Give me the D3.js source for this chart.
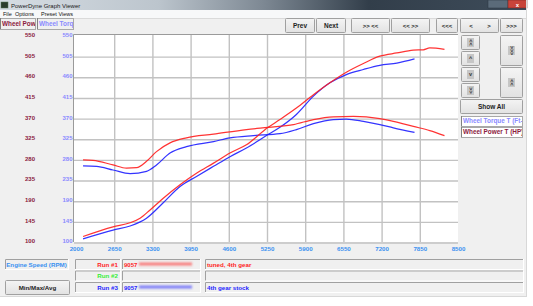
<!DOCTYPE html>
<html>
<head>
<meta charset="utf-8">
<script src="https://cdn.jsdelivr.net/npm/d3@7"></script>
<style>
  body { margin: 0; background: #ffffff; }
  svg { display: block; font-family: "Liberation Sans", Arial, sans-serif; }
</style>
</head>
<body>
<div id="chart"></div>
<script>
// tick values
const rpmTicks = [2000, 2650, 3300, 3950, 4600, 5250, 5900, 6550, 7200, 7850, 8500];
const valueTicks = [100, 145, 190, 235, 280, 325, 370, 415, 460, 505, 550];

// run #1 (tuned) - wheel power
const run1PowerRpm = [2120, 2630, 2920, 3090, 3260, 3480, 3770, 4050, 4340, 4620, 4900, 5270, 5470, 5750, 6040, 6320, 6600, 6890, 7170, 7460, 7740, 7910, 8020, 8270];
const run1Power = [113, 134, 143, 153, 171, 196, 226, 251, 273, 295, 313, 351, 368, 393, 422, 448, 471, 490, 506, 513, 519, 520, 524, 521];
// run #1 (tuned) - wheel torque
const run1TorqueRpm = [2120, 2290, 2630, 2860, 3030, 3200, 3370, 3600, 3880, 4340, 4900, 5270, 5700, 6040, 6380, 6720, 7170, 7400, 7740, 8020, 8270];
const run1Torque = [280, 279, 269, 262, 263, 277, 298, 317, 328, 336, 346, 351, 357, 368, 374, 375, 370, 364, 353, 344, 333];
// run #3 (stock) - wheel power
const run3PowerRpm = [2120, 2630, 2920, 3200, 3480, 3770, 4050, 4340, 4620, 4900, 5240, 5470, 5750, 6040, 6320, 6600, 6890, 7170, 7460, 7760];
const run3Power = [108, 127, 136, 153, 186, 222, 244, 266, 287, 306, 333, 351, 379, 419, 448, 466, 477, 486, 491, 500];
// run #3 (stock) - wheel torque
const run3TorqueRpm = [2120, 2350, 2630, 2920, 3200, 3370, 3600, 3880, 4340, 4620, 5020, 5470, 5750, 6040, 6380, 6600, 6890, 7170, 7400, 7760];
const run3Torque = [267, 266, 258, 250, 255, 269, 295, 309, 320, 328, 333, 337, 346, 359, 368, 369, 364, 357, 350, 340];

const runs = [
    { label: "Run #1", color: "#ff1e1e", id: "9057", note: "tuned, 4th gear" },
    { label: "Run #2", color: "#33ee33", id: "", note: "" },
    { label: "Run #3", color: "#1e1eff", id: "9057", note: "4th gear stock" }
];

const width = 533;
const height = 306;
const winW = 527;
const winH = 297;
const powColor = "#8b1a40";
const torqColor = "#8a8aff";
const rpmColor = "#3a90f0";

const plot = { left: 74, top: 35, right: 458, bottom: 242 };

const x = d3.scaleLinear().domain([2000, 8500]).range([76, 458]);
const y = d3.scaleLinear().domain([100, 550]).range([242.5, 36]);

const svg = d3.select("#chart")
    .append("svg")
    .attr("width", width)
    .attr("height", height);

const defs = svg.append("defs");

const titleGrad = defs.append("linearGradient").attr("id", "titlebar");
[["0%", "#d6dde3"], ["30%", "#bcc5cd"], ["50%", "#7d8893"], ["70%", "#323e4a"], ["100%", "#3e4c5a"]]
    .forEach(s => titleGrad.append("stop").attr("offset", s[0]).attr("stop-color", s[1]));

const btnGrad = defs.append("linearGradient").attr("id", "btn")
    .attr("x1", "0%").attr("x2", "0%").attr("y1", "0%").attr("y2", "100%");
btnGrad.append("stop").attr("offset", "0%").attr("stop-color", "#f4f4f4");
btnGrad.append("stop").attr("offset", "100%").attr("stop-color", "#e2e2e2");

defs.append("filter").attr("id", "blur")
    .attr("x", "-20%").attr("y", "-200%").attr("width", "140%").attr("height", "500%")
    .append("feGaussianBlur").attr("stdDeviation", 1.2);

defs.append("clipPath").attr("id", "plotclip")
    .append("rect")
    .attr("x", plot.left).attr("y", plot.top)
    .attr("width", plot.right - plot.left).attr("height", plot.bottom - plot.top);

// window background
svg.append("rect").attr("width", winW).attr("height", winH).style("fill", "#f0f0f0");

// title bar
svg.append("rect").attr("width", winW).attr("height", 10).style("fill", "url(#titlebar)");
svg.append("rect").attr("x", 1).attr("y", 2).attr("width", 7).attr("height", 6)
    .style("fill", "#2c3e2c").style("stroke", "#557755").style("stroke-width", 0.5);
svg.append("text").attr("x", 11).attr("y", 7.5).text("PowerDyne Graph Viewer")
    .style("font-size", "6px").style("fill", "#1a1a1a");
svg.append("rect").attr("x", 488).attr("y", 0).attr("width", 20).attr("height", 8)
    .style("fill", "#5b6b7a").style("stroke", "#2a3440").style("stroke-width", 0.5);
svg.append("rect").attr("x", 508).attr("y", 0).attr("width", 19).attr("height", 8)
    .style("fill", "#c8443a").style("stroke", "#6a2020").style("stroke-width", 0.5);
svg.append("text").attr("x", 517.5).attr("y", 6.5).attr("text-anchor", "middle").text("x")
    .style("font-size", "6px").style("font-weight", "bold").style("fill", "#ffffff");

// menu bar
svg.append("rect").attr("y", 10).attr("width", winW).attr("height", 8).style("fill", "#f7f8f9");
svg.append("line").attr("x1", 0).attr("x2", winW).attr("y1", 18.5).attr("y2", 18.5)
    .style("stroke", "#dadada");
[["File", 3], ["Options", 15], ["Preset Views", 41]].forEach(m => {
    svg.append("text").attr("x", m[1]).attr("y", 15.5).text(m[0])
        .style("font-size", "5.5px").style("fill", "#111");
});

function button(x0, y0, w, h, label, size) {
    svg.append("rect").attr("x", x0 + 0.5).attr("y", y0 + 0.5).attr("width", w).attr("height", h)
        .attr("rx", 1)
        .style("fill", "url(#btn)").style("stroke", "#a0a0a0").style("stroke-width", 1);
    if (label) {
        svg.append("text").attr("x", x0 + w / 2 + 0.5).attr("y", y0 + h / 2 + 2.6)
            .attr("text-anchor", "middle").text(label)
            .style("font-size", (size || 6.5) + "px").style("font-weight", "bold").style("fill", "#222");
    }
}

// top buttons
button(285, 18, 29, 14, "Prev");
button(316, 18, 29, 14, "Next");
button(351, 18, 38, 14, ">> <<", 6);
button(391, 18, 38, 14, "<< >>", 6);
button(436, 18, 21, 14, "<<<", 6);
button(460, 18, 38, 14, "");
svg.append("text").attr("x", 471).attr("y", 27.6).attr("text-anchor", "middle").text("<")
    .style("font-size", "6px").style("font-weight", "bold").style("fill", "#222");
svg.append("text").attr("x", 489).attr("y", 27.6).attr("text-anchor", "middle").text(">")
    .style("font-size", "6px").style("font-weight", "bold").style("fill", "#222");
button(500, 18, 22, 14, ">>>", 6);

// series name boxes at top left
function nameBox(x0, y0, w, h, label, color, bg) {
    const g = svg.append("g");
    const id = "clip" + Math.round(x0) + "_" + Math.round(y0);
    defs.append("clipPath").attr("id", id).append("rect")
        .attr("x", x0).attr("y", y0).attr("width", w).attr("height", h);
    g.append("rect").attr("x", x0 + 0.5).attr("y", y0 + 0.5).attr("width", w).attr("height", h)
        .style("fill", bg).style("stroke", "#a8a8a8");
    g.append("line").attr("x1", x0 + 0.5).attr("x2", x0 + 0.5).attr("y1", y0).attr("y2", y0 + h)
        .style("stroke", "#808080");
    g.append("text").attr("x", x0 + 2).attr("y", y0 + h / 2 + 2.3).text(label)
        .attr("clip-path", "url(#" + id + ")")
        .style("font-size", "6.4px").style("font-weight", "bold").style("fill", color);
}
nameBox(0, 18, 35, 11, "Wheel Power", powColor, "#f0f0f0");
nameBox(37, 18, 36, 11, "Wheel Torque", torqColor, "#f0f0f0");

// plot area
svg.append("rect").attr("x", plot.left).attr("y", plot.top)
    .attr("width", plot.right - plot.left).attr("height", plot.bottom - plot.top)
    .style("fill", "#ffffff");
svg.append("path")
    .attr("d", `M${plot.left - 0.5},${plot.bottom}V${plot.top - 0.5}H${plot.right}`)
    .style("fill", "none").style("stroke", "#9a9a9a");

// grid lines
svg.append("g")
    .attr("transform", `translate(0,${plot.bottom})`)
    .call(d3.axisBottom(x).tickValues(rpmTicks.slice(1, -1)).tickSize(-(plot.bottom - plot.top)).tickFormat(""))
    .call(g => g.select(".domain").remove())
    .call(g => g.selectAll("line").style("stroke", "#c2c2c2").style("stroke-width", 1.4));
svg.append("g")
    .attr("transform", `translate(${plot.left},0)`)
    .call(d3.axisLeft(y).tickValues(valueTicks.slice(0, -1)).tickSize(-(plot.right - plot.left)).tickFormat(""))
    .call(g => g.select(".domain").remove())
    .call(g => g.selectAll("line").style("stroke", "#c2c2c2").style("stroke-width", 1.4));

// axis labels
svg.append("g")
    .attr("transform", `translate(0,${plot.bottom + 5})`)
    .call(d3.axisBottom(x).tickValues(rpmTicks).tickSize(0).tickPadding(0).tickFormat(d3.format("d")))
    .call(g => g.select(".domain").remove())
    .call(g => g.selectAll("text").style("fill", rpmColor).style("font-size", "6.2px")
        .style("font-weight", "bold").style("font-family", "Liberation Sans, Arial, sans-serif"));

function valueAxis(xPos, color) {
    svg.append("g")
        .attr("transform", `translate(${xPos},-1.5)`)
        .call(d3.axisLeft(y).tickValues(valueTicks).tickSize(0).tickPadding(0).tickFormat(d3.format("d")))
        .call(g => g.select(".domain").remove())
        .call(g => g.selectAll("text").style("fill", color).style("font-size", "6px")
            .style("font-weight", "bold").style("font-family", "Liberation Sans, Arial, sans-serif"));
}
valueAxis(35, powColor);
valueAxis(72.5, torqColor);

// curves
const line = d3.line()
    .x(d => x(d[0]))
    .y(d => y(d[1]))
    .curve(d3.curveMonotoneX);

const curves = [
    { rpm: run3TorqueRpm, vals: run3Torque, color: runs[2].color },
    { rpm: run3PowerRpm, vals: run3Power, color: runs[2].color },
    { rpm: run1TorqueRpm, vals: run1Torque, color: runs[0].color },
    { rpm: run1PowerRpm, vals: run1Power, color: runs[0].color }
];

svg.append("g").attr("clip-path", "url(#plotclip)")
    .selectAll("path")
    .data(curves)
    .enter()
    .append("path")
    .attr("d", c => line(d3.zip(c.rpm, c.vals)))
    .style("fill", "none")
    .style("stroke", c => c.color)
    .style("stroke-width", 1.25)
    .style("opacity", 0.9);

// right side controls
function arrowButton(x0, y0, w, h, glyph, rotate) {
    button(x0, y0, w, h, "");
    const cx = x0 + w / 2 + 0.5, cy = y0 + h / 2 + 0.5;
    svg.append("rect").attr("x", cx - 3.5).attr("y", cy - 4.5).attr("width", 7).attr("height", 9)
        .style("fill", "#c6c6c6");
    svg.append("text")
        .attr("transform", `translate(${cx},${cy}) rotate(${rotate})`)
        .attr("text-anchor", "middle").attr("dy", "1.9px")
        .text(glyph)
        .style("font-size", "5.5px").style("font-weight", "bold").style("fill", "#333");
}
arrowButton(461, 35, 18, 14, "<<", 90);
arrowButton(461, 51, 18, 14, "^", 0);
arrowButton(461, 67, 18, 14, "v", 0);
arrowButton(461, 83, 18, 14, ">>", 90);
arrowButton(500, 35, 22, 30, ">>>", 90);
arrowButton(500, 67, 22, 30, "<<", 90);
button(460, 99, 62, 14, "Show All", 6.5);
nameBox(461, 116, 61, 10, "Wheel Torque T (Ft-Lb)", torqColor, "#ffffff");
nameBox(461, 127, 61, 10, "Wheel Power T (HP)", powColor, "#ffffff");

// bottom run table
function sunkenBox(x0, y0, w, h) {
    svg.append("rect").attr("x", x0 + 0.5).attr("y", y0 + 0.5).attr("width", w).attr("height", h)
        .style("fill", "#f0f0f0").style("stroke", "#ffffff");
    svg.append("path").attr("d", `M${x0 + 0.5},${y0 + h}V${y0 + 0.5}H${x0 + w}`)
        .style("fill", "none").style("stroke", "#a0a0a0");
}

sunkenBox(5, 259, 63, 10);
svg.append("text").attr("x", 36.5).attr("y", 266.5).attr("text-anchor", "middle")
    .text("Engine Speed (RPM)")
    .style("font-size", "6.2px").style("font-weight", "bold").style("fill", rpmColor);
button(5, 280, 64, 14, "Min/Max/Avg", 6.2);

const rowY = [259, 270.5, 282];
runs.forEach((r, i) => {
    const y0 = rowY[i];
    sunkenBox(75, y0, 45, 10);
    sunkenBox(122, y0, 78, 10);
    sunkenBox(205, y0, 318, 10);
    svg.append("text").attr("x", 118).attr("y", y0 + 7.5).attr("text-anchor", "end").text(r.label)
        .style("font-size", "6.2px").style("font-weight", "bold").style("fill", r.color);
    if (r.id) {
        svg.append("text").attr("x", 124).attr("y", y0 + 7.5).text(r.id)
            .style("font-size", "6px").style("font-weight", "bold").style("fill", r.color);
        svg.append("rect").attr("x", 139).attr("y", y0 + 3.5).attr("width", 53).attr("height", 3)
            .style("fill", r.color).style("opacity", 0.55).attr("filter", "url(#blur)");
    }
    if (r.note) {
        svg.append("text").attr("x", 207).attr("y", y0 + 7.5).text(r.note)
            .style("font-size", "6.2px").style("font-weight", "bold").style("fill", r.color);
    }
});

// window bottom edge
svg.append("line").attr("x1", 0).attr("x2", winW).attr("y1", winH - 0.5).attr("y2", winH - 0.5)
    .style("stroke", "#d8d8d8");
svg.append("line").attr("x1", winW - 0.5).attr("x2", winW - 0.5).attr("y1", 0).attr("y2", winH)
    .style("stroke", "#d8d8d8");
</script>
</body>
</html>
